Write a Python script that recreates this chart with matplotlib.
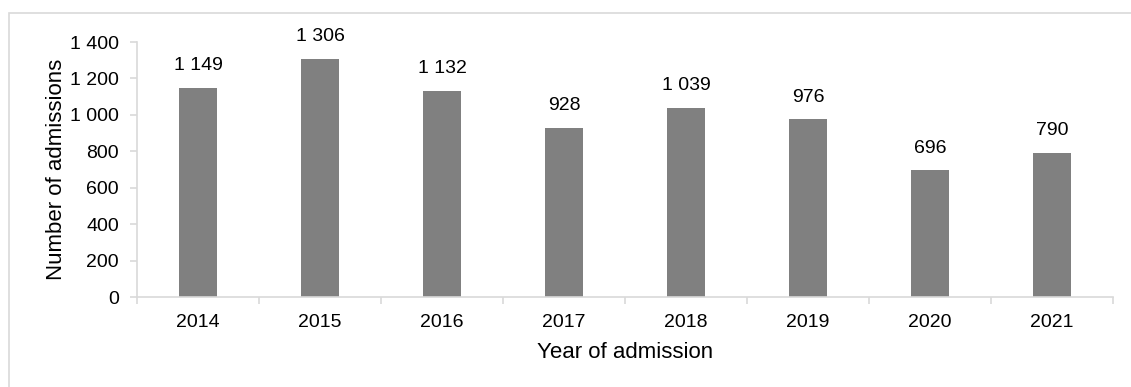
import matplotlib
matplotlib.use("Agg")
import matplotlib.pyplot as plt
from matplotlib.patches import Rectangle
from matplotlib.ticker import FuncFormatter, FixedLocator, NullFormatter

years = ["2014", "2015", "2016", "2017", "2018", "2019", "2020", "2021"]
admissions = [1149, 1306, 1132, 928, 1039, 976, 696, 790]

plt.rcParams['font.family'] = ['Liberation Sans', 'DejaVu Sans']

grey_line = '#d9d9d9'


def spaced(v, pos=None):
    return f"{int(v):,}".replace(",", " ")


fig = plt.figure(figsize=(11.31, 3.87), dpi=100)
ax = fig.add_axes([137 / 1131, 1 - 297 / 387, 976 / 1131, 255 / 387])

# outer frame of the chart area (cut off at right and bottom)
fig.patches.append(Rectangle((9 / 1131, -0.1), 1.2, 1 - 13 / 387 + 0.1,
                             transform=fig.transFigure, fill=False,
                             edgecolor=grey_line, linewidth=1.2))

x = list(range(len(years)))
ax.bar(x, admissions, width=0.31, color='#808080', zorder=2)

for xi, v in zip(x, admissions):
    ax.text(xi, v + 75, spaced(v), ha='center', va='bottom', fontsize=14)

ax.set_xlim(-0.5, len(years) - 0.5)
ax.set_ylim(0, 1400)
ax.set_yticks(range(0, 1401, 200))
ax.yaxis.set_major_formatter(FuncFormatter(spaced))

ax.set_xticks(x)
ax.set_xticklabels(years)
ax.xaxis.set_minor_locator(FixedLocator([i - 0.5 for i in range(len(years) + 1)]))
ax.xaxis.set_minor_formatter(NullFormatter())
ax.tick_params(axis='x', which='major', length=0, labelsize=14, pad=12)
ax.tick_params(axis='x', which='minor', length=5, color=grey_line, width=1.2)
ax.tick_params(axis='y', length=5, color=grey_line, width=1.2, labelsize=14, pad=8)

for side in ['top', 'right']:
    ax.spines[side].set_visible(False)
for side in ['left', 'bottom']:
    ax.spines[side].set_color(grey_line)
    ax.spines[side].set_linewidth(1.2)

ax.set_ylabel("Number of admissions", fontsize=16, labelpad=2)
ax.set_xlabel("Year of admission", fontsize=16, labelpad=8)

fig.savefig("out.png", dpi=100)
